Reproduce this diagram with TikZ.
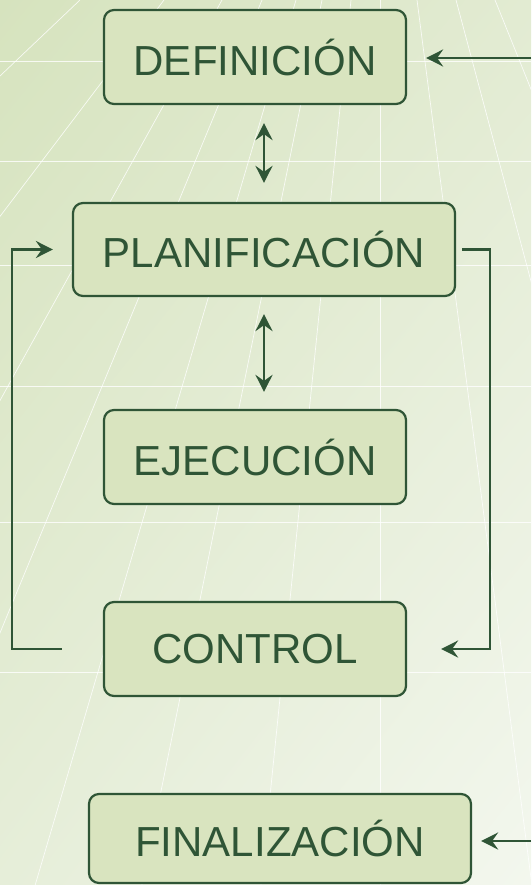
\documentclass[tikz,border=0pt]{standalone}
\usepackage{fontspec}
\setmainfont{Liberation Sans}
\usetikzlibrary{arrows.meta,shadings}
\definecolor{dk}{RGB}{47,85,54}
\definecolor{bx}{RGB}{217,228,191}
\definecolor{bgUL}{RGB}{214,227,190}
\definecolor{bgUR}{RGB}{226,235,210}
\definecolor{bgLL}{RGB}{230,238,217}
\definecolor{bgLR}{RGB}{243,247,238}
\begin{document}
\begin{tikzpicture}[x=1pt,y=-1pt,
  stage/.style={draw=dk, line width=2.2pt, fill=bx, rounded corners=10pt, text=dk,
    font=\fontsize{42}{42}\selectfont, inner sep=0pt},
  tipx/.tip={Stealth[length=17pt,width=17pt,inset=6pt]},
  arr/.style={draw=dk, line width=2.8pt, -tipx},
  darr/.style={draw=dk, line width=2.8pt, tipx-tipx},
  gridline/.style={white, line width=0.7pt, opacity=0.8}]
\useasboundingbox (0,0) rectangle (531,885);
\shade[upper left=bgUL, upper right=bgUR, lower left=bgLL, lower right=bgLR] (0,0) rectangle (531,885);
\begin{scope}
\clip (0,0) rectangle (531,885);
\foreach \x in {80,164,222,262,296,322,351,380,417,456,495}
  \draw[gridline] (\x,0) -- ({380+(\x-380)*4.105},885);
\foreach \y in {62,162,265,386,522,672}
  \draw[gridline, line width=1pt] (0,\y) -- (531,\y);
\end{scope}

\node[stage, minimum width=302pt, minimum height=94pt] (DEF) at (255,57) {DEFINICIÓN};
\node[stage, minimum width=382pt, minimum height=93pt] (PLAN) at (264,249.5) {PLANIFICACIÓN};
\node[stage, minimum width=302pt, minimum height=94pt] (EJE) at (255,457) {EJECUCIÓN};
\node[stage, minimum width=302pt, minimum height=94pt] (CTRL) at (255,649) {CONTROL};
\node[stage, minimum width=382pt, minimum height=89pt] (FIN) at (280,838.5) {FINALIZACIÓN};

\coordinate (indef) at (531,58);
\coordinate (infin) at (531,841);
\coordinate (L) at (12,0);
\coordinate (R) at (490,0);

\draw[arr, shorten >=19pt] (indef) -- (indef -| DEF.east);
\draw[darr, shorten <=18pt, shorten >=19pt] (PLAN.north |- DEF.south) -- (PLAN.north);
\draw[darr, shorten <=17pt, shorten >=17pt] (PLAN.south) -- (PLAN.south |- EJE.north);
\draw[arr] ([xshift=-41pt]CTRL.west) -| (L |- PLAN.west) -- ([xshift=-19pt]PLAN.west);
\draw[arr] ([xshift=6pt]PLAN.east) -| (R |- CTRL.east) -- ([xshift=34pt]CTRL.east);
\draw[arr, shorten >=9pt] (infin) -- (infin -| FIN.east);
\end{tikzpicture}
\end{document}
